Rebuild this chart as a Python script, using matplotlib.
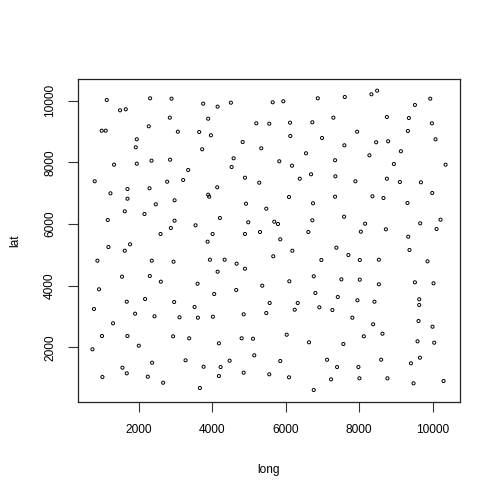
import matplotlib
matplotlib.use("Agg")
import matplotlib.pyplot as plt

plt.rcParams["font.family"] = ["Liberation Sans", "DejaVu Sans"]

# point locations
long = [1127, 2308, 2892, 3754, 1489, 1645, 2845, 2272, 990, 1099,
        3064, 3645, 1945, 1918, 3726, 1326, 1945, 2346, 2853, 3345,
        799, 2772, 3208, 1228, 1691, 2292, 1691, 2974, 2463, 1618,
        2155, 1154, 2974, 2873, 3546, 2592, 1762, 1173,
        4147, 4509, 5647, 5936, 6875, 3890, 5200, 5554, 6119, 6727,
        7300, 3964, 4829, 6127, 6992, 5336, 4583, 5827, 6555, 4528,
        6173, 7346, 4891, 5281, 6384, 6692, 7355, 4136, 3890, 3917,
        6092, 7346, 4919, 5472, 6746, 4209, 4981, 5691, 5792, 6727,
        4010, 4891, 5301, 6618, 3874, 5854,
        7611, 8337, 8492, 9521, 9938, 8757, 9357, 9984, 7947, 9330,
        8465, 8792, 10083, 7600, 9139, 8282, 8948, 10356, 7900, 8757,
        9112, 9684, 8364, 8664, 9993, 9319, 7592, 8165, 8048, 8730,
        9665, 10219, 10110, 9338, 7382,
        1618, 873, 2354, 2946, 1544, 2300, 2600, 3601, 917, 1672,
        2171, 2963, 3519, 780, 1899, 2428, 3110, 3609, 1299, 998,
        1691, 2935, 3372, 737, 2000, 2362, 3274, 3765, 1555, 1672,
        1009, 2245, 2663, 3664,
        3937, 4338, 4665, 4891, 4147, 5663, 6182, 6973, 6765, 6100,
        5363, 4054, 4654, 6809, 5565, 6329, 6247, 6918, 7273, 4018,
        4856, 5472, 6029, 4182, 4801, 5110, 6637, 5145, 4474, 5854,
        7128, 4228, 4182, 4856, 5554, 6092, 7237, 6765,
        7709, 8020, 8539, 9373, 9864, 7518, 8020, 8539, 9521, 10028,
        7420, 7955, 8419, 9638, 9638, 7818, 8383, 9619, 10001, 8129,
        8637, 7573, 9592, 10047, 8601, 9412, 9657, 7401, 7982, 8009,
        8773, 9483, 10301]

lat = [10024, 10079, 10066, 9904, 9690, 9722, 9450, 9171, 9028, 9028,
       8996, 8986, 8749, 8490, 8425, 7925, 7958, 8055, 8087, 7753,
       7387, 7374, 7429, 6997, 7137, 7160, 6822, 6770, 6640, 6413,
       6326, 6131, 6108, 5872, 5959, 5677, 5343, 5255,
       9807, 9936, 9949, 9982, 10079, 9417, 9268, 9255, 9288, 9301,
       9450, 8879, 8661, 8856, 8791, 8457, 8133, 8035, 8295, 7850,
       7893, 8068, 7503, 7341, 7471, 7614, 7549, 7192, 6952, 6887,
       6877, 6887, 6660, 6498, 6673, 6196, 6057, 6076, 6001, 6122,
       5677, 5677, 5742, 5742, 5427, 5505,
       10121, 10209, 10326, 9862, 10066, 9472, 9440, 9268, 8996, 9018,
       8652, 8684, 8749, 8554, 8360, 8230, 7948, 7925, 7387, 7471,
       7364, 7354, 6900, 6845, 7007, 6683, 6238, 6011, 5752, 5829,
       6024, 6141, 5839, 5589, 5233,
       5135, 4811, 4811, 4778, 4292, 4315, 4130, 4065, 3883, 3481,
       3568, 3471, 3309, 3244, 3092, 3007, 2975, 2962, 2780, 2368,
       2368, 2358, 2294, 1937, 2053, 1502, 1580, 1372, 1340, 1158,
       1038, 1048, 853, 681,
       4843, 4843, 4714, 4551, 4454, 4954, 5135, 4834, 4305, 4143,
       4000, 3731, 3860, 3763, 3439, 3439, 3221, 3299, 3212, 2994,
       3072, 3114, 2410, 2131, 2294, 2281, 2164, 1742, 1567, 1557,
       1599, 1362, 1071, 1178, 1126, 1028, 963, 616,
       4996, 4834, 4843, 5158, 4791, 4207, 4195, 4045, 4110, 4078,
       3633, 3526, 3481, 3559, 3374, 2962, 2748, 2855, 2670, 2358,
       2443, 2109, 2196, 2151, 1599, 1483, 1664, 1362, 1362, 996,
       996, 834, 908]

xticks = [2000, 4000, 6000, 8000, 10000]
yticks = [2000, 4000, 6000, 8000, 10000]

fig = plt.figure(figsize=(5, 5), dpi=100)
ax = fig.add_axes([0.1566, 0.196, 0.7628, 0.6466])

ax.scatter(long, lat, s=5, facecolors="none", edgecolors="black", linewidths=0.7)

# R style 4% padding
xr = max(long) - min(long)
yr = max(lat) - min(lat)
ax.set_xlim(min(long) - 0.04 * xr, max(long) + 0.04 * xr)
ax.set_ylim(min(lat) - 0.04 * yr, max(lat) + 0.04 * yr)

ax.set_xticks(xticks)
ax.set_yticks(yticks)
ax.set_xticklabels([str(t) for t in xticks], fontsize=8.6)
ax.set_yticklabels([str(t) for t in yticks], fontsize=8.6, rotation=90, va="center")
ax.tick_params(direction="out", length=7, width=0.8, colors="#333333", labelcolor="black")
ax.tick_params(axis="x", pad=9)
ax.tick_params(axis="y", pad=9)
for sp in ax.spines.values():
    sp.set_linewidth(0.9)
    sp.set_color("#222222")

fig.text(0.538, 0.06, "long", fontsize=8.6, ha="center", va="center")
fig.text(0.03, 0.519, "lat", fontsize=8.6, ha="center", va="center", rotation=90)

fig.savefig("out.png", dpi=100)
